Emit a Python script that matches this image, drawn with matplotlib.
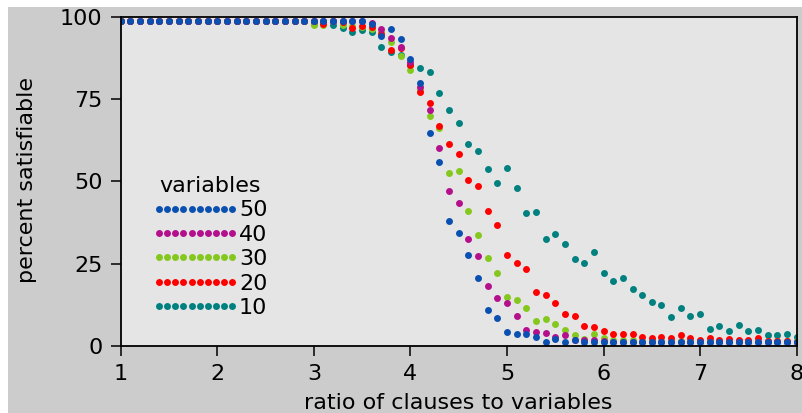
import numpy as np
import matplotlib
matplotlib.use('Agg')
import matplotlib.pyplot as plt
from matplotlib.patches import Rectangle
from matplotlib.lines import Line2D

# ratio of clauses to variables, 1.0 .. 8.0 step 0.1
ratio = np.round(np.arange(10, 81) / 10.0, 1)

# percent satisfiable, one list per problem size
sat_50 = [98.9] * 26 + [
    97.9, 94.4, 96.4, 93.4, 87.3, 80.0, 64.8, 55.9, 38.1, 34.4,
    27.6, 20.7, 10.9, 8.5, 4.1, 3.6, 3.7, 2.6, 1.2, 1.9,
    1.2, 1.7, 1.2] + [1.2] * 22
sat_40 = [98.9] * 26 + [
    98.3, 96.4, 93.7, 90.9, 86.5, 78.7, 71.7, 60.3, 47.2, 43.6,
    32.4, 27.2, 18.2, 14.6, 12.9, 9.0, 4.9, 4.2, 3.8, 2.8,
    3.2, 1.8, 1.8, 1.6, 1.4] + [1.2] * 20
sat_30 = [98.9] * 20 + [
    97.7, 97.8, 98.9, 97.6, 97.2, 96.9, 96.5, 95.5, 92.4, 88.3,
    84.0, 78.0, 70.0, 66.2, 52.6, 53.3, 41.1, 33.7, 26.6, 22.2,
    14.9, 14.0, 11.4, 7.6, 8.0, 6.6, 4.8, 3.3, 2.0, 3.6,
    2.3, 1.7, 1.7, 1.7, 1.5, 1.6] + [1.3] * 15
sat_20 = [98.9] * 21 + [
    98.0, 98.9, 98.5, 96.6, 97.5, 97.1, 95.0, 90.0, 90.5, 85.5,
    77.3, 73.8, 66.9, 61.4, 58.4, 50.4, 48.7, 41.1, 36.7, 27.5,
    25.2, 23.5, 16.4, 15.4, 12.9, 9.6, 9.0, 6.1, 5.6, 4.6,
    3.7, 3.7, 3.7, 2.8, 2.3, 2.8, 2.3, 3.3, 2.3, 1.8,
    2.4, 1.6, 1.9, 1.6, 1.6, 2.2, 1.4, 1.4, 1.3, 1.2]
sat_10 = [98.9] * 20 + [
    97.9, 98.9, 97.7, 96.7, 95.4, 96.0, 95.4, 90.9, 89.5, 88.5,
    85.5, 84.6, 83.3, 76.9, 71.9, 67.9, 61.3, 59.4, 53.9, 49.6,
    54.2, 48.0, 40.3, 40.8, 32.4, 33.9, 31.0, 26.5, 25.1, 28.5,
    22.2, 19.8, 20.7, 17.3, 15.3, 13.4, 12.5, 8.7, 11.4, 8.9,
    9.8, 5.1, 6.1, 4.5, 6.3, 4.5, 4.8, 3.3, 3.3, 3.5, 2.8]

labels = ['50', '40', '30', '20', '10']
colors = ['#0a50b0', '#b4108c', '#84c81e', '#ff0000', '#00807f']
series = [sat_50, sat_40, sat_30, sat_20, sat_10]
draw_order = [4, 2, 3, 1, 0]

xticks = [1, 2, 3, 4, 5, 6, 7, 8]
yticks = [0, 25, 50, 75, 100]

plt.rcParams['font.family'] = ['DejaVu Sans']
fs = 16

fig = plt.figure(figsize=(8.02, 4.13), dpi=100)
fig.patch.set_facecolor('white')
# grey panel with a thin white strip at top and left
fig.patches.append(Rectangle((8 / 802, 0), 1, 406 / 413, transform=fig.transFigure,
                             facecolor='#cccccc', edgecolor='none', zorder=-5))
ax = fig.add_axes([120.7 / 802, 1 - 345.7 / 413, 676 / 802, 328.4 / 413])
ax.set_zorder(1)
ax.set_facecolor('#e5e5e5')

for i in draw_order:
    ax.plot(ratio, series[i], linestyle='none', marker='o', markersize=5,
            markeredgewidth=0, color=colors[i])

ax.set_xlim(1, 8)
ax.set_ylim(0, 100)
ax.set_xticks(xticks)
ax.set_yticks(yticks)
ax.tick_params(direction='out', length=7.5, width=1.1, labelsize=fs, pad=5.5, colors='black')
for s in ax.spines.values():
    s.set_linewidth(1.3)
    s.set_color('black')

ax.set_xlabel('ratio of clauses to variables', fontsize=fs)
ax.set_ylabel('percent satisfiable', fontsize=fs)
ax.xaxis.set_label_coords(0.5, -0.143)
ax.yaxis.set_label_coords(-0.124, 0.505)

handles = [Line2D([], [], linestyle='none', marker='o', markersize=5,
                  markeredgewidth=0, color=c) for c in colors]
leg = ax.legend(handles, labels, title='variables', fontsize=fs, title_fontsize=fs,
                loc='upper left', bbox_to_anchor=(0.0424, 0.5258), frameon=False,
                numpoints=10, handlelength=3.9, handletextpad=0.0,
                labelspacing=0.2, borderpad=0.13, borderaxespad=0)

fig.savefig('out.png', dpi=100)
